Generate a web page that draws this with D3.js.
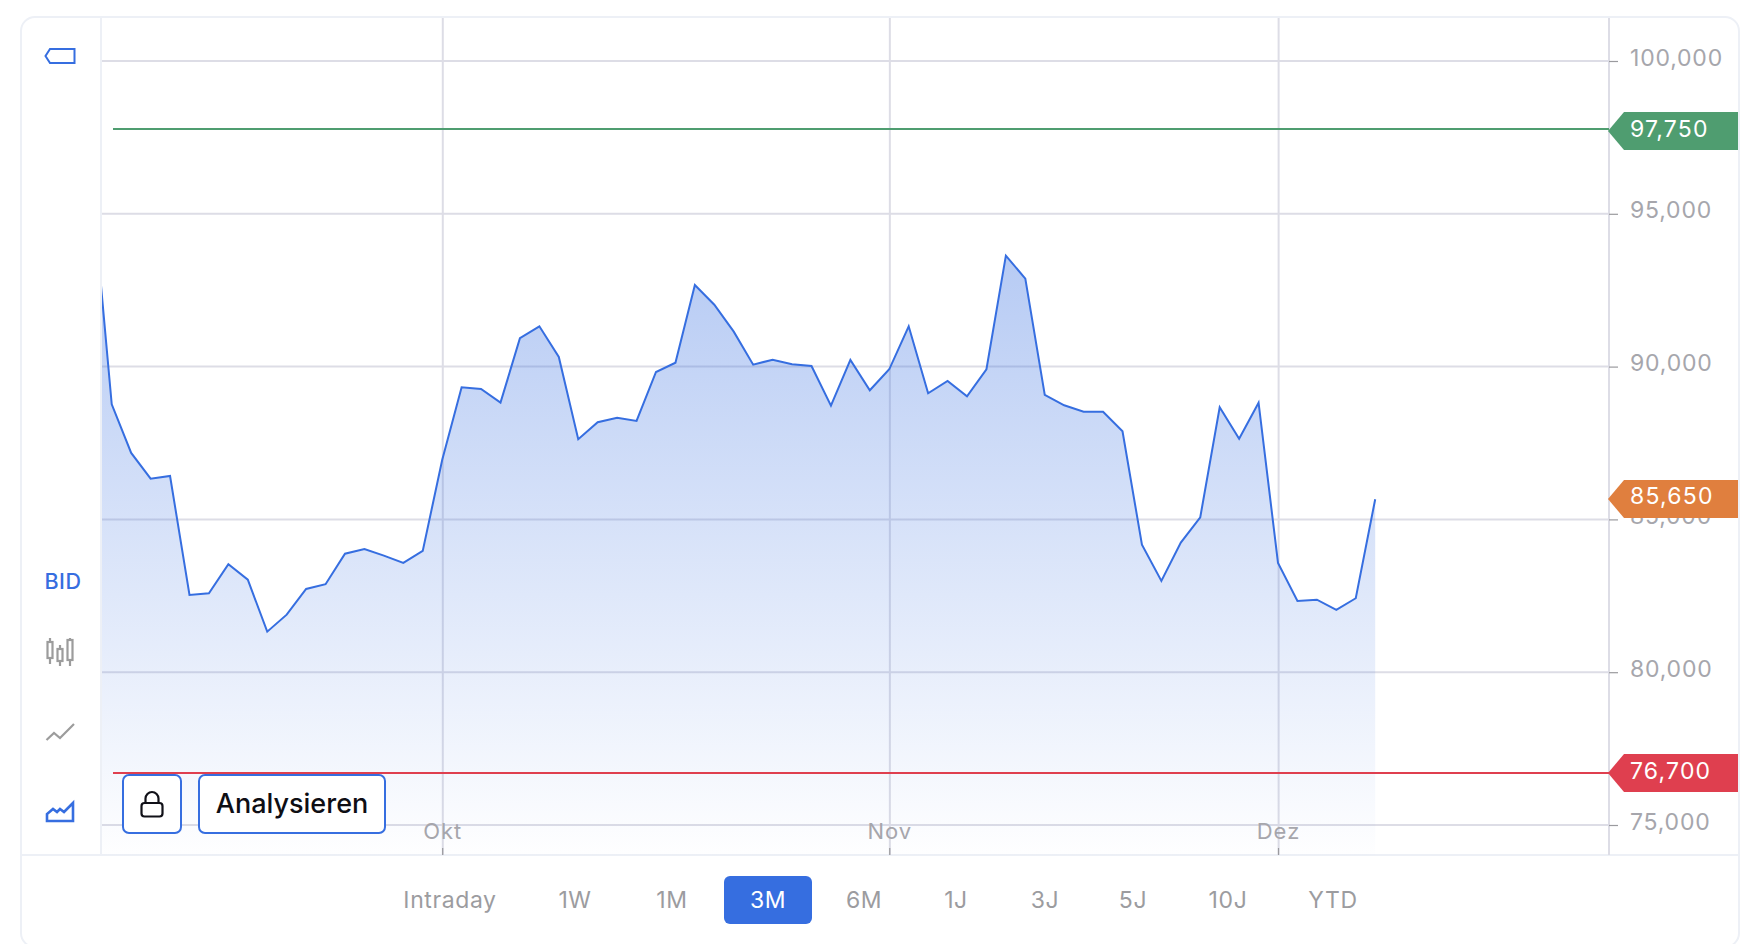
<!DOCTYPE html>
<html>
<head>
<meta charset="utf-8">
<script src="https://cdn.jsdelivr.net/npm/d3@7"></script>
<style>
html,body{margin:0;padding:0;background:#fff;overflow:hidden}
svg{display:block;font-family:Inter,"Noto Sans",sans-serif}
</style>
</head>
<body>
<svg id="c" width="1764" height="944"></svg>
<script>
// ---- data ----
const bidValues = [95800,88767,87174,86333,86421,82528,82583,83532,83028,81327,81883,82724,82878,83879,84033,83813,83575,83967,
  86945,89323,89268,88820,90927,91319,90315,87622,88178,88329,88221,89824,90128,92671,92026,91143,90063,90227,90076,90020,88721,90217,89225,
  89912,91319,89127,89530,89029,89912,93629,92877,89072,88734,88525,88525,87884,84173,82986,84239,85070,88669,87642,88820,
  83575,82331,82374,82037,82420,85659];
const yTicks = [75000,80000,85000,90000,95000,100000];
const monthLabels = ["Okt","Nov","Dez"];
const monthIndex = [18,41,61];
const levelValues = [97750,85650,76700];
const levelColors = ["#4f9d70","#e07f3e","#df3f4f"];
const rangeLabels = ["Intraday","1W","1M","3M","6M","1J","3J","5J","10J","YTD"];
const rangeCenters = [450,575,672,768,864,956,1045,1133,1228,1333];
const activeRange = "3M";

const BLUE="#366ee0", GRID="#dddde6", FRAME="#edf0f6", MUTED="#a6a6ac";
const L=102, R=1609, T=17, B=855;
const tagTextDy=[8,5,6];
const tagShift=[2,0,0];
const svg=d3.select("#c");
const x=d3.scaleLinear().domain([0,66]).range([92.3,1375.2]);
const y=d3.scaleLinear().domain([75000,100000]).range([825,61]);

const defs=svg.append("defs");
const g=defs.append("linearGradient").attr("id","fade").attr("gradientUnits","userSpaceOnUse")
  .attr("x1",0).attr("x2",0).attr("y1",y(d3.max(bidValues.slice(1)))).attr("y2",B);
g.append("stop").attr("offset",0).attr("stop-color",BLUE).attr("stop-opacity",0.36);
g.append("stop").attr("offset",1).attr("stop-color",BLUE).attr("stop-opacity",0.005);
defs.append("clipPath").attr("id","plot").append("rect").attr("x",L).attr("y",T).attr("width",R-L).attr("height",B-T);

// card
svg.append("rect").attr("x",21).attr("y",17).attr("width",1718).attr("height",930).attr("rx",14)
  .attr("fill","#fff").attr("stroke",FRAME).attr("stroke-width",2);
svg.append("line").attr("x1",21).attr("x2",1739).attr("y1",B).attr("y2",B).attr("stroke",FRAME).attr("stroke-width",2);
svg.append("line").attr("x1",101).attr("x2",101).attr("y1",18).attr("y2",B).attr("stroke",FRAME).attr("stroke-width",2);

// grid
svg.append("g").selectAll("line").data(yTicks).join("line")
  .attr("x1",L).attr("x2",R).attr("y1",d=>y(d)).attr("y2",d=>y(d)).attr("stroke",GRID).attr("stroke-width",2);
svg.append("g").selectAll("line").data(monthIndex).join("line")
  .attr("x1",d=>x(d)+0.6).attr("x2",d=>x(d)+0.6).attr("y1",18).attr("y2",B).attr("stroke",GRID).attr("stroke-width",2);
svg.append("line").attr("x1",R).attr("x2",R).attr("y1",18).attr("y2",B).attr("stroke",GRID).attr("stroke-width",2);

// series
const clip=svg.append("g").attr("clip-path","url(#plot)");
clip.append("path").datum(bidValues).attr("fill","url(#fade)")
  .attr("d",d3.area().x((d,i)=>x(i)).y0(B).y1(d=>y(d)));
clip.append("path").datum(bidValues).attr("fill","none").attr("stroke",BLUE).attr("stroke-width",2)
  .attr("stroke-linejoin","miter").attr("d",d3.line().x((d,i)=>x(i)).y(d=>y(d)));

// axes
const yAxis=svg.append("g").attr("transform",`translate(${R},0)`)
  .call(d3.axisRight(y).tickValues(yTicks).tickSize(9).tickPadding(12).tickFormat(d3.format(",")));
yAxis.select(".domain").remove();
yAxis.selectAll("line").attr("stroke","#9a9a9e").attr("stroke-width",1.2);
yAxis.selectAll("text").attr("fill",MUTED).attr("font-family","Inter").attr("font-size",23)
  .attr("letter-spacing",0.8).attr("y",0).attr("dy",4).attr("x",21);

const xAxis=svg.append("g").attr("transform",`translate(0,${B})`)
  .call(d3.axisTop(x).tickValues(monthIndex).tickSize(7).tickPadding(9).tickFormat((d,i)=>monthLabels[i]));
xAxis.select(".domain").remove();
xAxis.selectAll("line").attr("stroke","#9a9a9e").attr("stroke-width",1.2);
xAxis.selectAll("text").attr("fill",MUTED).attr("font-family","Inter").attr("font-size",22).attr("letter-spacing",1);

// level lines & tags
const lv=svg.append("g");
levelValues.forEach((v,i)=>{
  const yy=Math.floor(y(v)), c=yy+tagShift[i];
  if(i!==1) lv.append("line").attr("x1",113).attr("x2",R).attr("y1",yy).attr("y2",yy)
    .attr("stroke",levelColors[i]).attr("stroke-width",2);
  lv.append("path").attr("fill",levelColors[i])
    .attr("d",`M1608 ${c}L1624 ${c-19}H1738V${c+19}H1624Z`);
  lv.append("text").attr("x",1630).attr("y",yy+tagTextDy[i]).attr("fill","#fff").attr("font-size",23)
    .attr("letter-spacing",1.2).text(d3.format(",")(v));
});

// left toolbar
const tb=svg.append("g");
tb.append("path").attr("d","M50 49H74.5V63H50L45.5 56Z").attr("fill","none").attr("stroke",BLUE).attr("stroke-width",2);
tb.append("text").attr("x",44.5).attr("y",588.5).attr("fill",BLUE).attr("font-size",21.5).attr("font-weight",500).attr("letter-spacing",0.5).text("BID");
const cand=tb.append("g").attr("stroke","#9c9c9c").attr("stroke-width",2.2).attr("fill","none");
[[50,638,664,642,658],[60,645,666,649,661],[70,638,666,640,660]].forEach(c=>{
  cand.append("path").attr("d",`M${c[0]} ${c[1]}V${c[2]}`);
  cand.append("rect").attr("x",c[0]-2.5).attr("y",c[3]).attr("width",5).attr("height",c[4]-c[3]).attr("fill","#fff");
});
tb.append("path").attr("d","M46.5 740L54 733L60 738L74 724").attr("fill","none").attr("stroke","#9c9c9c").attr("stroke-width",2.2);
tb.append("path").attr("d","M47 821V814L53 809L57 812L60 809L64 812L73 803V821Z").attr("fill","none").attr("stroke",BLUE).attr("stroke-width",2.6);

// buttons
const btn=svg.append("g");
btn.append("rect").attr("x",123).attr("y",775).attr("width",58).attr("height",58).attr("rx",6).attr("fill","#fff").attr("stroke",BLUE).attr("stroke-width",2);
btn.append("rect").attr("x",199).attr("y",775).attr("width",186).attr("height",58).attr("rx",6).attr("fill","#fff").attr("stroke",BLUE).attr("stroke-width",2);
btn.append("rect").attr("x",141.5).attr("y",803).attr("width",21).attr("height",13.5).attr("rx",3).attr("fill","none").attr("stroke","#111118").attr("stroke-width",2.2);
btn.append("path").attr("d","M145.5 803V798.5A6.5 6.5 0 0 1 158.5 798.5V803").attr("fill","none").attr("stroke","#111118").attr("stroke-width",2.2);
btn.append("text").attr("x",292).attr("y",812.5).attr("text-anchor","middle").attr("fill","#0e0e14")
  .attr("font-size",27).attr("font-weight",500).text("Analysieren");

// range selector
const rs=svg.append("g");
rs.append("rect").attr("x",724).attr("y",876).attr("width",88).attr("height",48).attr("rx",6).attr("fill",BLUE);
rs.selectAll("text").data(rangeLabels).join("text")
  .attr("x",(d,i)=>rangeCenters[i]).attr("y",907.5).attr("text-anchor","middle").attr("font-size",23).attr("letter-spacing",0.6)
  .attr("fill",d=>d===activeRange?"#fff":"#9c9c9f").text(d=>d);
</script>
</body>
</html>
